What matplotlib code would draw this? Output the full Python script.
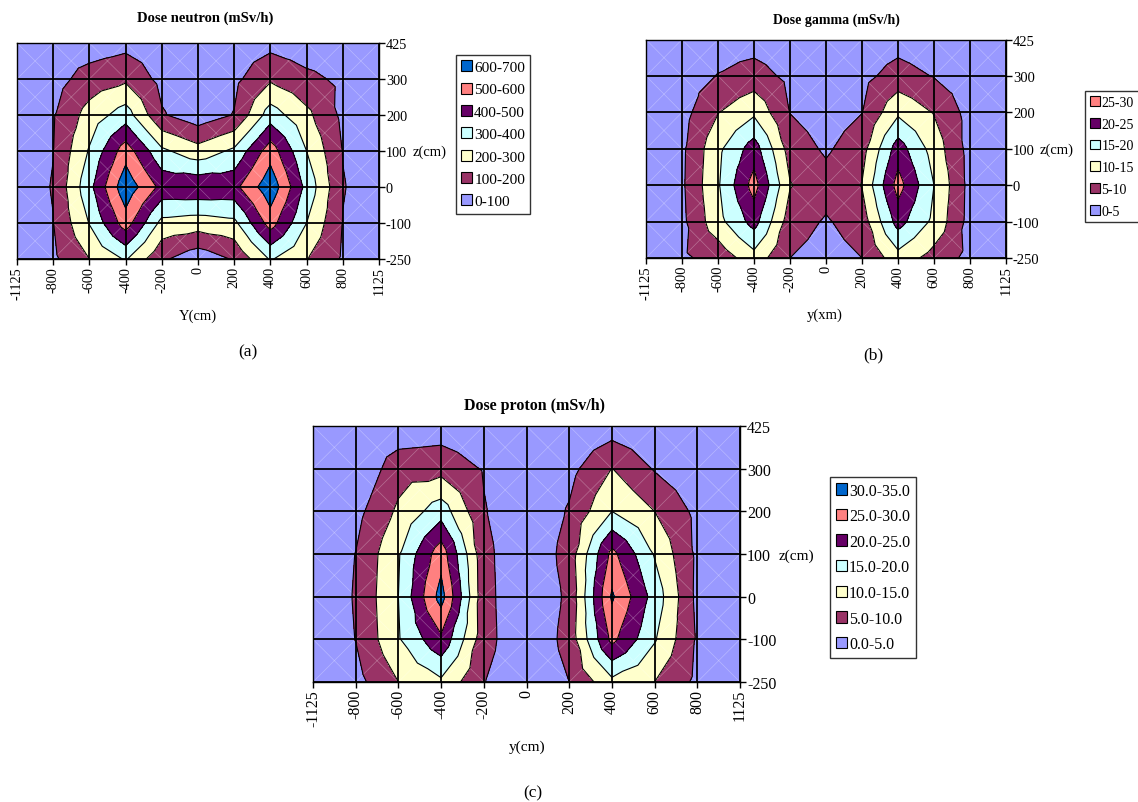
import numpy as np
import matplotlib.pyplot as plt
import matplotlib.tri as mtri
from matplotlib.patches import Patch

plt.rcParams['font.family'] = ['Liberation Serif', 'DejaVu Serif']

W, H = 1138, 803

y_cats = ["-1125", "-800", "-600", "-400", "-200", "0", "200", "400", "600", "800", "1125"]
z_cats = ["425", "300", "200", "100", "0", "-100", "-250"]

# dose maps, one row per z category (first row = z 425 cm), one column per y category
neutron = [
    [20, 40, 45, 68, 45, 15, 45, 68, 40, 30, 20],
    [30, 60, 143, 181, 70, 25, 75, 185, 125, 80, 30],
    [40, 92, 241, 350, 110, 40, 105, 350, 225, 78, 40],
    [50, 98, 310, 555, 320, 240, 320, 555, 300, 97, 50],
    [50, 105, 370, 670, 470, 480, 470, 670, 370, 105, 50],
    [45, 98, 305, 550, 270, 250, 275, 545, 300, 97, 45],
    [35, 81, 200, 310, 117, 35, 110, 310, 205, 88, 35],
]
gamma = [
    [1, 1, 2.5, 2.8, 1.5, 1, 1.5, 3, 1.5, 1, 1],
    [1, 2.5, 5.2, 7.1, 3.8, 1.5, 3.6, 7, 4.75, 2.5, 1],
    [1, 3.15, 9.8, 14, 4.9, 2.5, 4.9, 14, 9.7, 3.2, 1],
    [1, 4, 13.8, 22.5, 7.8, 4.26, 8, 22.5, 12.8, 3.2, 1],
    [1, 4.2, 14.5, 27, 10.3, 7, 10.2, 27, 15, 3.4, 1],
    [1, 3.8, 13.3, 22, 7.4, 4.5, 7.4, 22, 13.8, 3.2, 1],
    [1, 4.2, 6.75, 13, 5, 3, 5, 13, 8, 3.6, 1],
]
proton = [
    [0.3, 0.5, 1.5, 2.4, 1, 0.5, 0.8, 2.4, 1, 0.8, 0.5],
    [0.3, 0.5, 7.9, 8.2, 4.6, 0.5, 3.4, 10.1, 4.6, 1.5, 0.5],
    [0.5, 3.4, 10.9, 17.8, 5.4, 0.5, 5.5, 15, 10, 3.75, 0.5],
    [0.8, 5.1, 14.5, 28, 6.5, 0.5, 7, 26.5, 14.6, 4, 0.5],
    [0.8, 5.4, 15, 32, 6.75, 0.5, 6, 30.7, 18, 3.8, 0.5],
    [0.8, 5.1, 14.5, 24, 7, 0.5, 6.8, 26.4, 15.5, 4.4, 0.5],
    [0.5, 3.3, 10, 14, 5.2, 0.5, 5, 13.6, 10, 3.9, 0.5],
]

neutron_levels = [0, 100, 200, 300, 400, 500, 600, 700]
gamma_levels = [0, 5, 10, 15, 20, 25, 30]
proton_levels = [0, 5, 10, 15, 20, 25, 30, 35]

neutron_bands = ["0-100", "100-200", "200-300", "300-400", "400-500", "500-600", "600-700"]
gamma_bands = ["0-5", "5-10", "10-15", "15-20", "20-25", "25-30"]
proton_bands = ["0.0-5.0", "5.0-10.0", "10.0-15.0", "15.0-20.0", "20.0-25.0", "25.0-30.0", "30.0-35.0"]

band_colors = ["#9999FF", "#993366", "#FFFFCC", "#CCFFFF", "#660066", "#FF8080", "#0066CC"]


def px(x, y):
    return x / W, 1 - y / H


def cell_mesh(grid):
    # excel style surface: every cell cut in 4 triangles around its centre
    g = np.array(grid, dtype=float)[::-1]
    ny, nx = g.shape
    gx, gy = np.meshgrid(np.arange(nx), np.arange(ny))
    xs = list(gx.ravel().astype(float))
    ys = list(gy.ravel().astype(float))
    vs = list(g.ravel())
    tris = []
    for j in range(ny - 1):
        for i in range(nx - 1):
            a = j * nx + i
            b, d = a + 1, a + nx
            e = d + 1
            c = len(xs)
            xs.append(i + 0.5)
            ys.append(j + 0.5)
            vs.append(g[j:j + 2, i:i + 2].mean())
            tris += [[a, b, c], [b, e, c], [e, d, c], [d, a, c]]
    return mtri.Triangulation(xs, ys, tris), np.array(vs), nx, ny


def draw_panel(fig, box, grid, levels, bands, title, title_xy, xlabel, xlabel_xy, tag, tag_xy,
               zlab_xy, leg_xy, fs_title, fs_tick, fs_lab, fs_leg, leg_space):
    x0, y0, x1, y1 = box
    ax = fig.add_axes([x0 / W, 1 - y1 / H, (x1 - x0) / W, (y1 - y0) / H])
    tri, vals, nx, ny = cell_mesh(grid)
    cols = band_colors[:len(levels) - 1]
    ax.tricontourf(tri, vals, levels=levels, colors=cols, zorder=1)
    ax.tricontour(tri, vals, levels=levels[1:-1], colors='black', linewidths=0.8, zorder=3)
    for i in range(nx - 1):
        for j in range(ny - 1):
            ax.plot([i, i + 1], [j, j + 1], color='white', lw=0.5, alpha=0.3, zorder=2)
            ax.plot([i, i + 1], [j + 1, j], color='white', lw=0.5, alpha=0.3, zorder=2)
    ax.set_xlim(0, nx - 1)
    ax.set_ylim(0, ny - 1)
    ax.set_xticks(range(nx))
    ax.set_xticklabels(y_cats, rotation=90)
    ax.set_yticks(range(ny))
    ax.set_yticklabels(z_cats[::-1])
    ax.yaxis.tick_right()
    ax.tick_params(direction='out', length=4, width=1, labelsize=fs_tick, pad=1)
    ax.grid(True, color='black', lw=1.3, zorder=4)
    ax.set_axisbelow(False)
    for s in ax.spines.values():
        s.set_linewidth(1.0)

    fig.text(*px(*title_xy), title, ha='center', va='center', fontsize=fs_title, fontweight='bold')
    fig.text(*px(*xlabel_xy), xlabel, ha='center', va='center', fontsize=fs_lab)
    fig.text(*px(*zlab_xy), "z(cm)", ha='left', va='center', fontsize=fs_lab)
    fig.text(*px(*tag_xy), tag, ha='center', va='center', fontsize=12.5)

    handles = [Patch(facecolor=c, edgecolor='black', lw=0.8, label=b) for c, b in zip(cols, bands)][::-1]
    leg = fig.legend(handles=handles, loc='upper left', bbox_to_anchor=px(*leg_xy), frameon=True,
                     fancybox=False, edgecolor='black', fontsize=fs_leg, handlelength=0.72, handleheight=0.72,
                     handletextpad=0.12, labelspacing=leg_space, borderpad=0.35, borderaxespad=0)
    leg.get_frame().set_linewidth(1.0)
    return ax


fig = plt.figure(figsize=(W / 100, H / 100), dpi=100)

draw_panel(fig, (17, 44, 379, 260), neutron, neutron_levels, neutron_bands,
           "Dose neutron (mSv/h)", (205, 18), "Y(cm)", (198, 316), "(a)", (248, 352),
           (413, 152), (456, 56), 10.5, 10.3, 10.5, 11, 0.56)
draw_panel(fig, (646, 40.5, 1006, 259), gamma, gamma_levels, gamma_bands,
           "Dose gamma (mSv/h)", (836, 20), "y(xm)", (825, 315), "(b)", (873, 355),
           (1040, 150), (1085, 92), 10, 10.5, 10.5, 10, 0.63)
draw_panel(fig, (313, 427, 740, 683), proton, proton_levels, proton_bands,
           "Dose proton (mSv/h)", (535, 406), "y(cm)", (527, 747), "(c)", (533, 793),
           (779, 556), (830, 478), 11.5, 11.5, 11, 11.5, 0.6)

fig.savefig("out.png", dpi=100)
